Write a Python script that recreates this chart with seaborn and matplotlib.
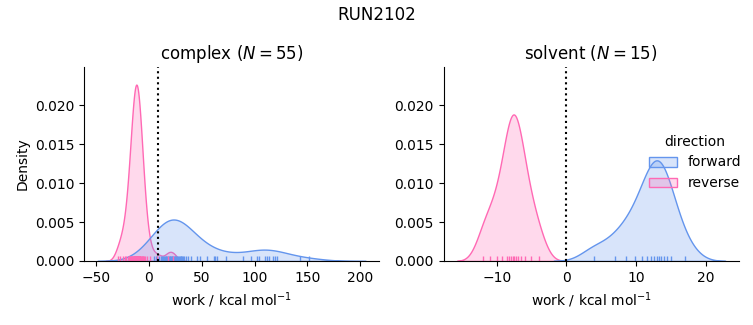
import matplotlib
matplotlib.use("Agg")
import matplotlib.pyplot as plt
import numpy as np
import pandas as pd
import seaborn as sns

# ---- data (work values, kcal/mol) ----
complex_forward = [
    5, 7, 8, 10, 11.5, 12, 13, 14, 15, 16,
    16.5, 17, 18, 19, 19.5, 20, 21, 21.5, 22, 23,
    24, 24.5, 25, 26, 27, 27.5, 28, 29, 30, 30.5,
    31, 32, 33, 35, 37, 40,
    45.9, 48.1, 55.3, 61.5, 62.5, 64.7, 73.1, 88.7, 97.0, 102.2,
    104.0, 110.0, 112.1, 114.0, 117.8, 119.3, 120.9, 142.8, 151.5,
]
complex_reverse = [
    -29, -27, -24.5, -22.5, -21.5, -20, -19,
    -18.5, -17.8, -17.1, -16.8, -16.5, -16.0, -15.6, -15.2, -14.9, -14.5, -14.2,
    -13.9, -13.6, -13.4, -13.1, -12.9, -12.7, -12.5, -12.3, -12.1,
    -11.9, -11.6, -11.4, -11.2, -11.0, -10.9, -10.7, -10.4, -10.1,
    -9.8, -9.5, -9.2, -8.8, -8.6, -8.4, -8.0, -7.5, -7.0, -6.5, -6.0, -5.5, -5.0,
    -4, -2, 1, 8, 18, 23,
]
solvent_forward = [4.0, 7.0, 8.5, 9.8, 10.8, 11.6, 12.2, 12.6, 13.0, 13.3,
                   13.6, 14.0, 14.4, 15.0, 17.0]
solvent_reverse = [-12.0, -11.0, -10.0, -9.2, -8.6, -8.2, -7.9, -7.7, -7.5, -7.2,
                   -6.9, -6.5, -5.9, -5.1, -4.0]

phases = ["complex", "solvent"]
directions = ["forward", "reverse"]
counts = [55, 15]
dotted_lines = [8.4, 0.0]
palette = ["cornflowerblue", "hotpink"]

series = {
    ("complex", "forward"): complex_forward,
    ("complex", "reverse"): complex_reverse,
    ("solvent", "forward"): solvent_forward,
    ("solvent", "reverse"): solvent_reverse,
}
rows = []
for (ph, d), vals in series.items():
    for v in vals:
        rows.append({"phase": ph, "direction": d, "work": v})
df = pd.DataFrame(rows)

g = sns.displot(
    data=df, x="work", hue="direction", col="phase", kind="kde",
    fill=True, rug=True, palette=palette, hue_order=directions,
    col_order=phases, facet_kws=dict(sharex=False), height=3, aspect=1.2,
)
fig = g.figure
fig.set_size_inches(7.53, 3.25)
fig.subplots_adjust(left=0.1116, right=0.981, bottom=0.197, top=0.794, wspace=0.218)

for ax, ph, n, xv in zip(g.axes.flat, phases, counts, dotted_lines):
    ax.axvline(xv, color="black", linestyle=":", linewidth=1.5)
    ax.set_title(f"{ph} ($N = {n}$)")
    ax.set_xlabel("work / kcal mol$^{-1}$")
    ax.tick_params(labelleft=True)
g.axes.flat[0].set_ylabel("Density")

sns.move_legend(g, "center left", bbox_to_anchor=(0.845, 0.50), frameon=False)
fig.suptitle("RUN2102")
fig.savefig("out.png", dpi=100)
